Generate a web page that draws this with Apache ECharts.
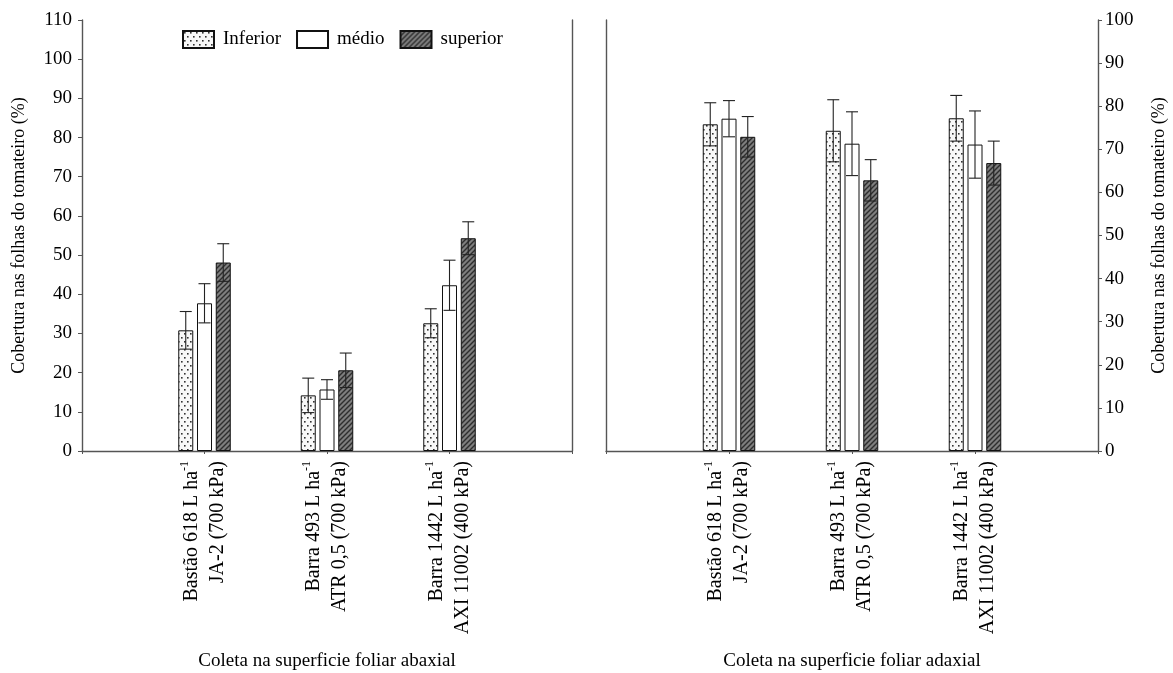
<!DOCTYPE html>
<html><head><meta charset="utf-8">
<script src="https://cdn.jsdelivr.net/npm/echarts@6/dist/echarts.min.js"></script>
<style>html,body{margin:0;padding:0;background:#fff}#c{width:1173px;height:673px}</style>
</head><body><div id="c"></div>
<script>
// ---- data ----
const categories = ['', 'g1', 'g2', 'g3', ''];
const labelLine1 = ['Bastão 618 L ha', 'Barra 493 L ha', 'Barra 1442 L ha'];
const labelLine2 = ['JA-2 (700 kPa)', 'ATR 0,5 (700 kPa)', 'AXI 11002 (400 kPa)'];
const seriesNames = ['Inferior', 'médio', 'superior'];
const panelTitles = ['Coleta na superficie foliar abaxial', 'Coleta na superficie foliar adaxial'];
const yName = 'Cobertura nas folhas do tomateiro (%)';
const leftAxis = {min: 0, max: 110, interval: 10};
const rightAxis = {min: 0, max: 100, interval: 10};
// abaxial (left panel)
const abInferior = [30.8, 14.2, 32.6];
const abInferiorErr = [4.8, 4.4, 3.7];
const abMedio = [37.7, 15.7, 42.3];
const abMedioErr = [5.0, 2.5, 6.4];
const abSuperior = [48.1, 20.6, 54.3];
const abSuperiorErr = [4.8, 4.4, 4.2];
// adaxial (right panel)
const adInferior = [75.8, 74.3, 77.2];
const adInferiorErr = [5.0, 7.2, 5.3];
const adMedio = [77.1, 71.3, 71.1];
const adMedioErr = [4.2, 7.4, 7.8];
const adSuperior = [72.9, 62.8, 66.8];
const adSuperiorErr = [4.7, 4.8, 5.1];

// ---- styles ----
const FONT = "'Liberation Serif','Times New Roman',serif";
const AXIS_COLOR = '#555';
function dotPattern() {
  const c = document.createElement('canvas'); c.width = 6; c.height = 8;
  const g = c.getContext('2d');
  g.fillStyle = '#f8f8f8'; g.fillRect(0, 0, 6, 8);
  g.fillStyle = '#333';
  g.fillRect(1, 1, 1.6, 1.6); g.fillRect(4, 5, 1.6, 1.6);
  return c;
}
function hatchPattern() {
  const s = 5;
  const c = document.createElement('canvas'); c.width = s; c.height = s;
  const g = c.getContext('2d');
  g.fillStyle = '#7e7e7e'; g.fillRect(0, 0, s, s);
  g.strokeStyle = '#2e2e2e'; g.lineWidth = 1.4;
  g.beginPath();
  g.moveTo(0, s); g.lineTo(s, 0);
  g.moveTo(-1, 1); g.lineTo(1, -1);
  g.moveTo(s - 1, s + 1); g.lineTo(s + 1, s - 1);
  g.stroke();
  return c;
}
const fills = [
  {image: dotPattern(), repeat: 'repeat'},
  '#ffffff',
  {image: hatchPattern(), repeat: 'repeat'}
];
const BAR_W = 15, STEP = 18.75;

function padData(arr) { return ['-'].concat(arr).concat(['-']); }

function barSeries(name, vals, idx, axis) {
  return {
    type: 'bar', name: name, xAxisIndex: axis, yAxisIndex: axis === 0 ? 0 : 3,
    data: padData(vals), barWidth: BAR_W, barGap: '25%',
    itemStyle: {color: fills[idx], borderColor: '#111', borderWidth: 1},
    emphasis: {disabled: true}, silent: true, z: 2
  };
}
function errSeries(means, errs, idx, axis) {
  return {
    type: 'custom', name: 'err' + axis + idx, xAxisIndex: axis, yAxisIndex: axis === 0 ? 0 : 3,
    silent: true, z: 5,
    data: means.map((m, i) => [i + 1, m, errs[i]]),
    encode: {x: 0, y: 1},
    renderItem: function (params, api) {
      const x = api.value(0), m = api.value(1), e = api.value(2);
      const top = api.coord([x, m + e]), bot = api.coord([x, m - e]);
      const cx = top[0] + (idx - 1) * STEP, hw = 6;
      const st = {stroke: '#222', lineWidth: 1.1};
      return {type: 'group', children: [
        {type: 'line', shape: {x1: cx, y1: top[1], x2: cx, y2: bot[1]}, style: st},
        {type: 'line', shape: {x1: cx - hw, y1: top[1], x2: cx + hw, y2: top[1]}, style: st},
        {type: 'line', shape: {x1: cx - hw, y1: bot[1], x2: cx + hw, y2: bot[1]}, style: st}
      ]};
    }
  };
}

function xAxisFor(gridIndex, title) {
  return {
    type: 'category', gridIndex: gridIndex, data: categories, boundaryGap: false,
    axisLine: {lineStyle: {color: AXIS_COLOR, width: 1.4}},
    axisTick: {show: true, length: 3, lineStyle: {color: AXIS_COLOR}},
    axisLabel: {
      interval: 0, rotate: 90, margin: 10, hideOverlap: false,
      formatter: function (v, i) {
        if (i < 1 || i > 3) return '';
        return '{a|' + labelLine1[i - 1] + '}{s|-1}\n{a|' + labelLine2[i - 1] + '}';
      },
      rich: {
        a: {fontFamily: FONT, fontSize: 20, color: '#000', lineHeight: 26},
        s: {fontFamily: FONT, fontSize: 12, color: '#000', lineHeight: 26, verticalAlign: 'top'}
      }
    },
    name: title, nameLocation: 'middle', nameGap: 201,
    nameTextStyle: {fontFamily: FONT, fontSize: 19, color: '#000'},
    splitLine: {show: false}
  };
}
function plainY(gridIndex, position) {
  return {
    type: 'value', gridIndex: gridIndex, position: position, min: 0, max: 1,
    axisLine: {show: true, lineStyle: {color: AXIS_COLOR, width: 1.4}},
    axisTick: {show: false}, axisLabel: {show: false}, splitLine: {show: false}
  };
}
function labeledY(gridIndex, position, cfg, nameGap, margin) {
  return {
    type: 'value', gridIndex: gridIndex, position: position,
    min: cfg.min, max: cfg.max, interval: cfg.interval,
    axisLine: {show: true, lineStyle: {color: AXIS_COLOR, width: 1.4}},
    axisTick: {show: true, length: 4, lineStyle: {color: AXIS_COLOR}},
    axisLabel: {fontFamily: FONT, fontSize: 19, color: '#000', margin: margin},
    splitLine: {show: false},
    name: yName, nameLocation: 'middle', nameGap: nameGap, nameRotate: 90,
    nameTextStyle: {fontFamily: FONT, fontSize: 18, color: '#000'}
  };
}

const series = [];
const ab = [abInferior, abMedio, abSuperior], abE = [abInferiorErr, abMedioErr, abSuperiorErr];
const ad = [adInferior, adMedio, adSuperior], adE = [adInferiorErr, adMedioErr, adSuperiorErr];
for (let k = 0; k < 3; k++) series.push(barSeries(seriesNames[k], ab[k], k, 0));
for (let k = 0; k < 3; k++) series.push(barSeries(seriesNames[k], ad[k], k, 1));
for (let k = 0; k < 3; k++) series.push(errSeries(ab[k], abE[k], k, 0));
for (let k = 0; k < 3; k++) series.push(errSeries(ad[k], adE[k], k, 1));

const option = {
  animation: false,
  backgroundColor: '#fff',
  textStyle: {fontFamily: FONT},
  grid: [
    {left: 82, top: 20, width: 490, height: 431, outerBoundsMode: 'none', containLabel: false},
    {left: 606, top: 20, width: 492, height: 431, outerBoundsMode: 'none', containLabel: false}
  ],
  legend: {
    data: seriesNames, left: 182, top: 30, padding: 0, itemWidth: 31, itemHeight: 17, itemGap: 15,
    icon: 'rect', selectedMode: false,
    textStyle: {fontFamily: FONT, fontSize: 19, color: '#000', padding: [0, 0, 0, 4]}
  },
  xAxis: [xAxisFor(0, panelTitles[0]), xAxisFor(1, panelTitles[1])],
  yAxis: [
    labeledY(0, 'left', leftAxis, 54, 10),
    plainY(0, 'right'),
    plainY(1, 'left'),
    labeledY(1, 'right', rightAxis, 52, 7)
  ],
  series: series
};
const chart = echarts.init(document.getElementById('c'), null, {renderer: 'canvas'});
chart.setOption(option);
</script></body></html>
